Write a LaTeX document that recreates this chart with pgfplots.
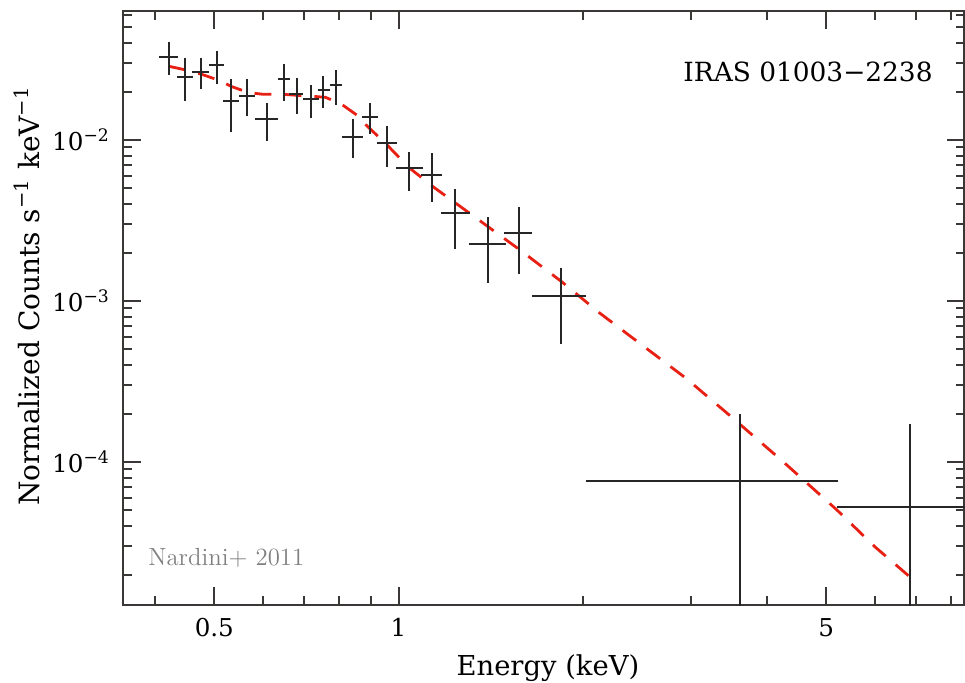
\documentclass[border=0pt]{standalone}
\usepackage{fontspec}
\setmainfont{DejaVu Serif}
\newfontfamily\lmfont{Latin Modern Roman}
\usepackage{pgfplots}
\pgfplotsset{compat=1.18}
\definecolor{modelred}{RGB}{232,32,20}
\definecolor{framegray}{RGB}{60,55,55}
\begin{document}
\begin{tikzpicture}
\useasboundingbox (0,0) rectangle (482.5pt,341.5pt);
\begin{axis}[
  at={(61.5pt,39pt)}, anchor=south west,
  scale only axis, width=420.75pt, height=297pt,
  xmode=log, ymode=log,
  xmin=0.3546, xmax=8.41, ymin=1.294e-5, ymax=0.0633,
  xtick={0.5,1,5}, xticklabels={0.5,1,5},
  minor xtick={0.4,0.6,0.7,0.8,0.9,2,3,4,6,7,8},
  ytick={1e-4,1e-3,1e-2},
  yticklabels={10\textsuperscript{−4},10\textsuperscript{−3},10\textsuperscript{−2}},
  minor ytick={2e-5,3e-5,4e-5,5e-5,6e-5,7e-5,8e-5,9e-5,2e-4,3e-4,4e-4,5e-4,6e-4,7e-4,8e-4,9e-4,2e-3,3e-3,4e-3,5e-3,6e-3,7e-3,8e-3,9e-3,2e-2,3e-2,4e-2,5e-2,6e-2},
  tick align=inside, xtick pos=both, ytick pos=both,
  major tick length=9pt, minor tick length=4.5pt,
  every tick/.style={line width=1pt, framegray},
  axis line style={line width=1.2pt, framegray},
  tick label style={font=\fontsize{12.3}{14}\selectfont},
  xticklabel style={yshift=-3pt},
  yticklabel style={xshift=-3pt},
  xlabel={Energy (keV)},
  ylabel={Normalized Counts s\textsuperscript{−1} keV\textsuperscript{−1}},
  xlabel style={at={(axis description cs:0.505,-0.106)}, anchor=center, font=\fontsize{13.7}{16}\selectfont},
  ylabel style={at={(axis description cs:-0.114,0.52)}, anchor=center, rotate=0, font=\fontsize{14}{16}\selectfont},
  clip=true,
]
% model (red dashed)
\addplot[modelred, line width=1.4pt, dash pattern=on 8.5pt off 6.5pt] coordinates {
(0.4217,0.02869) (0.4496,0.02721) (0.4769,0.02559) (0.507,0.02359)
(0.5344,0.02144) (0.5683,0.01972) (0.6013,0.01922) (0.6427,0.01925)
(0.7258,0.01868) (0.7600,0.01840) (0.7926,0.01720) (0.8125,0.01638)
(0.8545,0.01430) (0.8733,0.01299) (0.9552,0.00942) (1.0395,0.00675)
(1.1451,0.005047) (1.3003,0.003556) (1.5795,0.002074) (1.8475,0.001318)
(2.134,0.000839) (2.458,0.000559) (2.95,0.000331) (3.47,0.0001959)
(4.25,0.0001005) (5.205,5.033e-5) (6.0,2.98e-5) (6.851,1.931e-5)
};
% data with error bars
\addplot[draw=none, mark=none,
  error bars/.cd, x dir=both, x explicit, y dir=both, y explicit,
  error mark=none, error bar style={draw=black!85, solid, line width=0.95pt}]
  table[x=x, y=y,
    x error plus expr=\thisrow{xhi}-\thisrow{x},
    x error minus expr=\thisrow{x}-\thisrow{xlo},
    y error plus expr=\thisrow{yhi}-\thisrow{y},
    y error minus expr=\thisrow{y}-\thisrow{ylo}] {
x xlo xhi y ylo yhi
0.4217 0.4066 0.4368 0.03264 0.02533 0.04045
0.4478 0.4341 0.4610 0.02451 0.01747 0.03218
0.4756 0.4594 0.4907 0.02656 0.02065 0.03218
0.5045 0.4907 0.5186 0.02922 0.02218 0.03587
0.5330 0.5160 0.5493 0.01754 0.01126 0.02382
0.5661 0.5493 0.5828 0.01884 0.01409 0.02382
0.6092 0.5828 0.6350 0.01345 0.00986 0.01690
0.6502 0.6350 0.6650 0.02382 0.01747 0.02965
0.6818 0.6632 0.6988 0.01922 0.01444 0.02416
0.7187 0.6973 0.7415 0.01790 0.01364 0.02196
0.7536 0.7379 0.7728 0.02045 0.01587 0.02508
0.7897 0.7728 0.8094 0.02196 0.01650 0.02721
0.8417 0.8076 0.8739 0.01048 0.00777 0.01350
0.8984 0.8707 0.9268 0.01395 0.01085 0.01690
0.9566 0.9212 0.9932 0.00954 0.00677 0.01227
1.0414 0.9895 1.0953 0.00673 0.00482 0.00839
1.1331 1.0871 1.1766 0.00606 0.00410 0.00827
1.2382 1.1720 1.3090 0.003505 0.002104 0.004962
1.4020 1.3055 1.4985 0.00227 0.001288 0.003339
1.5717 1.4871 1.6544 0.002646 0.001465 0.003819
1.8434 1.6544 2.0250 0.001069 0.00054 0.001596
3.618 2.025 5.232 7.655e-5 1e-6 1.978e-4
6.851 5.2 12 5.232e-5 1e-6 1.715e-4
};
\node[anchor=east, font=\fontsize{13.2}{16}\selectfont, inner sep=0pt] at (rel axis cs:0.9626,0.897) {IRAS 01003−2238};
\node[anchor=west, font=\lmfont\fontsize{12.4}{14}\selectfont, text=black!50, inner sep=0pt] at (rel axis cs:0.0297,0.079) {Nardini+ 2011};
\end{axis}
\end{tikzpicture}
\end{document}
